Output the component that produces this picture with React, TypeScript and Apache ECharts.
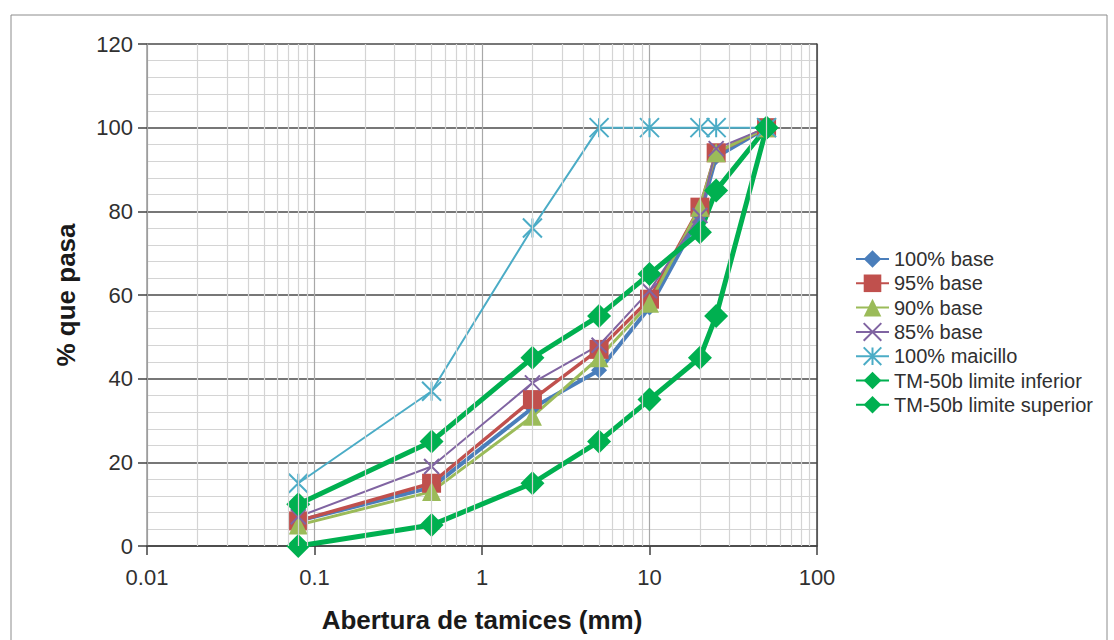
import React, { useEffect, useRef } from "react";
import * as echarts from "echarts";

const sieveSizes = [0.08, 0.5, 2, 5, 10, 20, 25, 50];
const base100 = [6, 14, 33, 42, 57, 79, 93, 100];
const base95 = [6, 15, 35, 47, 59, 81, 94, 100];
const base90 = [5, 13, 31, 45, 58, 81, 94, 100];
const base85 = [7, 19, 39, 48, 61, 79, 95, 100];
const maicillo = [15, 37, 76, 100, 100, 100, 100, 100];
const limInferior = [0, 5, 15, 25, 35, 45, 55, 100];
const limSuperior = [10, 25, 45, 55, 65, 75, 85, 100];

const seriesNames = [
  "100% base",
  "95% base",
  "90% base",
  "85% base",
  "100% maicillo",
  "TM-50b limite inferior",
  "TM-50b limite superior",
];

const decades = [0.01, 0.1, 1, 10];
const multipliers = [2, 3, 4, 5, 6, 7, 8, 9];

const FONT = "'Liberation Sans', Arial, sans-serif";

const pair = (vals: number[]) => sieveSizes.map((x, i) => [x, vals[i]]);

export default function App() {
  const ref = useRef<HTMLDivElement>(null);
  useEffect(() => {
    if (!ref.current) return;
    const chart = echarts.init(ref.current, null, { renderer: "svg" });
    const minorX: { xAxis: number }[] = [];
    decades.forEach((d) =>
      multipliers.forEach((m) => minorX.push({ xAxis: +(d * m).toPrecision(6) }))
    );
    const mk = (
      name: string,
      vals: number[],
      color: string,
      width: number,
      symbol: string,
      size: number
    ) => ({
      name,
      type: "line",
      data: pair(vals),
      symbol,
      symbolSize: size,
      lineStyle: { color, width },
      itemStyle: { color },
      z: 3,
    });
    const xPath = "path://M0,0L10,10M10,0L0,10";
    const starPath = "path://M0,0L10,10M10,0L0,10M5,0L5,10";
    chart.setOption({
      animation: false,
      textStyle: { fontFamily: FONT },
      grid: { left: 147, top: 44, right: 297, bottom: 94 },
      legend: {
        data: seriesNames,
        orient: "vertical",
        left: 850,
        top: 244,
        itemGap: 4.3,
        itemWidth: 33,
        itemHeight: 22,
        textStyle: { fontSize: 20, color: "#303030", fontFamily: FONT, lineHeight: 20 },
      },
      xAxis: {
        type: "log",
        logBase: 10,
        min: 0.01,
        max: 100,
        axisLine: { lineStyle: { color: "#404040", width: 1.5 } },
        axisTick: { show: true, length: 9, lineStyle: { color: "#404040", width: 1.5 } },
        axisLabel: {
          fontSize: 22,
          color: "#303030",
          margin: 20,
          formatter: (v: number) => String(+v.toPrecision(6)),
        },
        splitLine: { show: true, lineStyle: { color: "#a8a8a8", width: 1.2 } },
        minorTick: { show: false },
        minorSplitLine: { show: false },
      },
      yAxis: [
        {
          type: "value",
          min: 0,
          max: 120,
          interval: 20,
          axisLine: { show: true, lineStyle: { color: "#9a9a9a", width: 1.5 } },
          axisTick: { show: true, length: 9, lineStyle: { color: "#404040", width: 1.5 } },
          axisLabel: { fontSize: 22, color: "#303030", margin: 14 },
          splitLine: { show: true, lineStyle: { color: "#4a4a4a", width: 1.5 } },
          minorTick: { show: false, splitNumber: 5 },
          minorSplitLine: { show: true, lineStyle: { color: "#d4d4d4", width: 1.2 } },
        },
        {
          type: "value",
          position: "right",
          min: 0,
          max: 120,
          interval: 20,
          axisLine: { show: true, lineStyle: { color: "#404040", width: 1.5 } },
          axisTick: { show: false },
          axisLabel: { show: false },
          splitLine: { show: false },
        },
      ],
      graphic: [
        {
          type: "rect",
          shape: { x: 11, y: 15, width: 1096, height: 700 },
          style: { fill: "none", stroke: "#8c8c8c", lineWidth: 1 },
          z: -1,
        },
        {
          type: "text",
          x: 482,
          y: 620,
          style: {
            text: "Abertura de tamices (mm)",
            font: `bold 26px ${FONT}`,
            fill: "#1a1a1a",
            align: "center",
            verticalAlign: "middle",
          },
        },
        {
          type: "text",
          x: 66,
          y: 295,
          rotation: Math.PI / 2,
          style: {
            text: "% que pasa",
            font: `bold 26px ${FONT}`,
            fill: "#1a1a1a",
            align: "center",
            verticalAlign: "middle",
          },
        },
      ],
      series: [
        {
          name: "__minorgrid",
          type: "line",
          data: [],
          silent: true,
          z: 1,
          markLine: {
            silent: true,
            symbol: ["none", "none"],
            label: { show: false },
            lineStyle: { color: "#d4d4d4", width: 1.2, type: "solid" },
            data: minorX,
          },
        },
        mk(seriesNames[0], base100, "#4a7ebb", 4, "diamond", 16),
        mk(seriesNames[1], base95, "#c0504d", 3.5, "rect", 19),
        mk(seriesNames[2], base90, "#9bbb59", 3, "triangle", 19),
        {
          ...mk(seriesNames[3], base85, "#8064a2", 2, xPath, 15),
          itemStyle: { color: "#8064a2", borderColor: "#8064a2", borderWidth: 2 },
        },
        {
          ...mk(seriesNames[4], maicillo, "#4bacc6", 2, starPath, 19),
          itemStyle: { color: "#4bacc6", borderColor: "#4bacc6", borderWidth: 2 },
        },
        mk(seriesNames[5], limInferior, "#00b050", 5, "diamond", 24),
        mk(seriesNames[6], limSuperior, "#00b050", 5, "diamond", 24),
      ],
    });
    return () => chart.dispose();
  }, []);
  return (
    <div
      ref={ref}
      style={{ position: "fixed", left: 0, top: 0, width: 1114, height: 640, background: "#fff" }}
    />
  );
}
